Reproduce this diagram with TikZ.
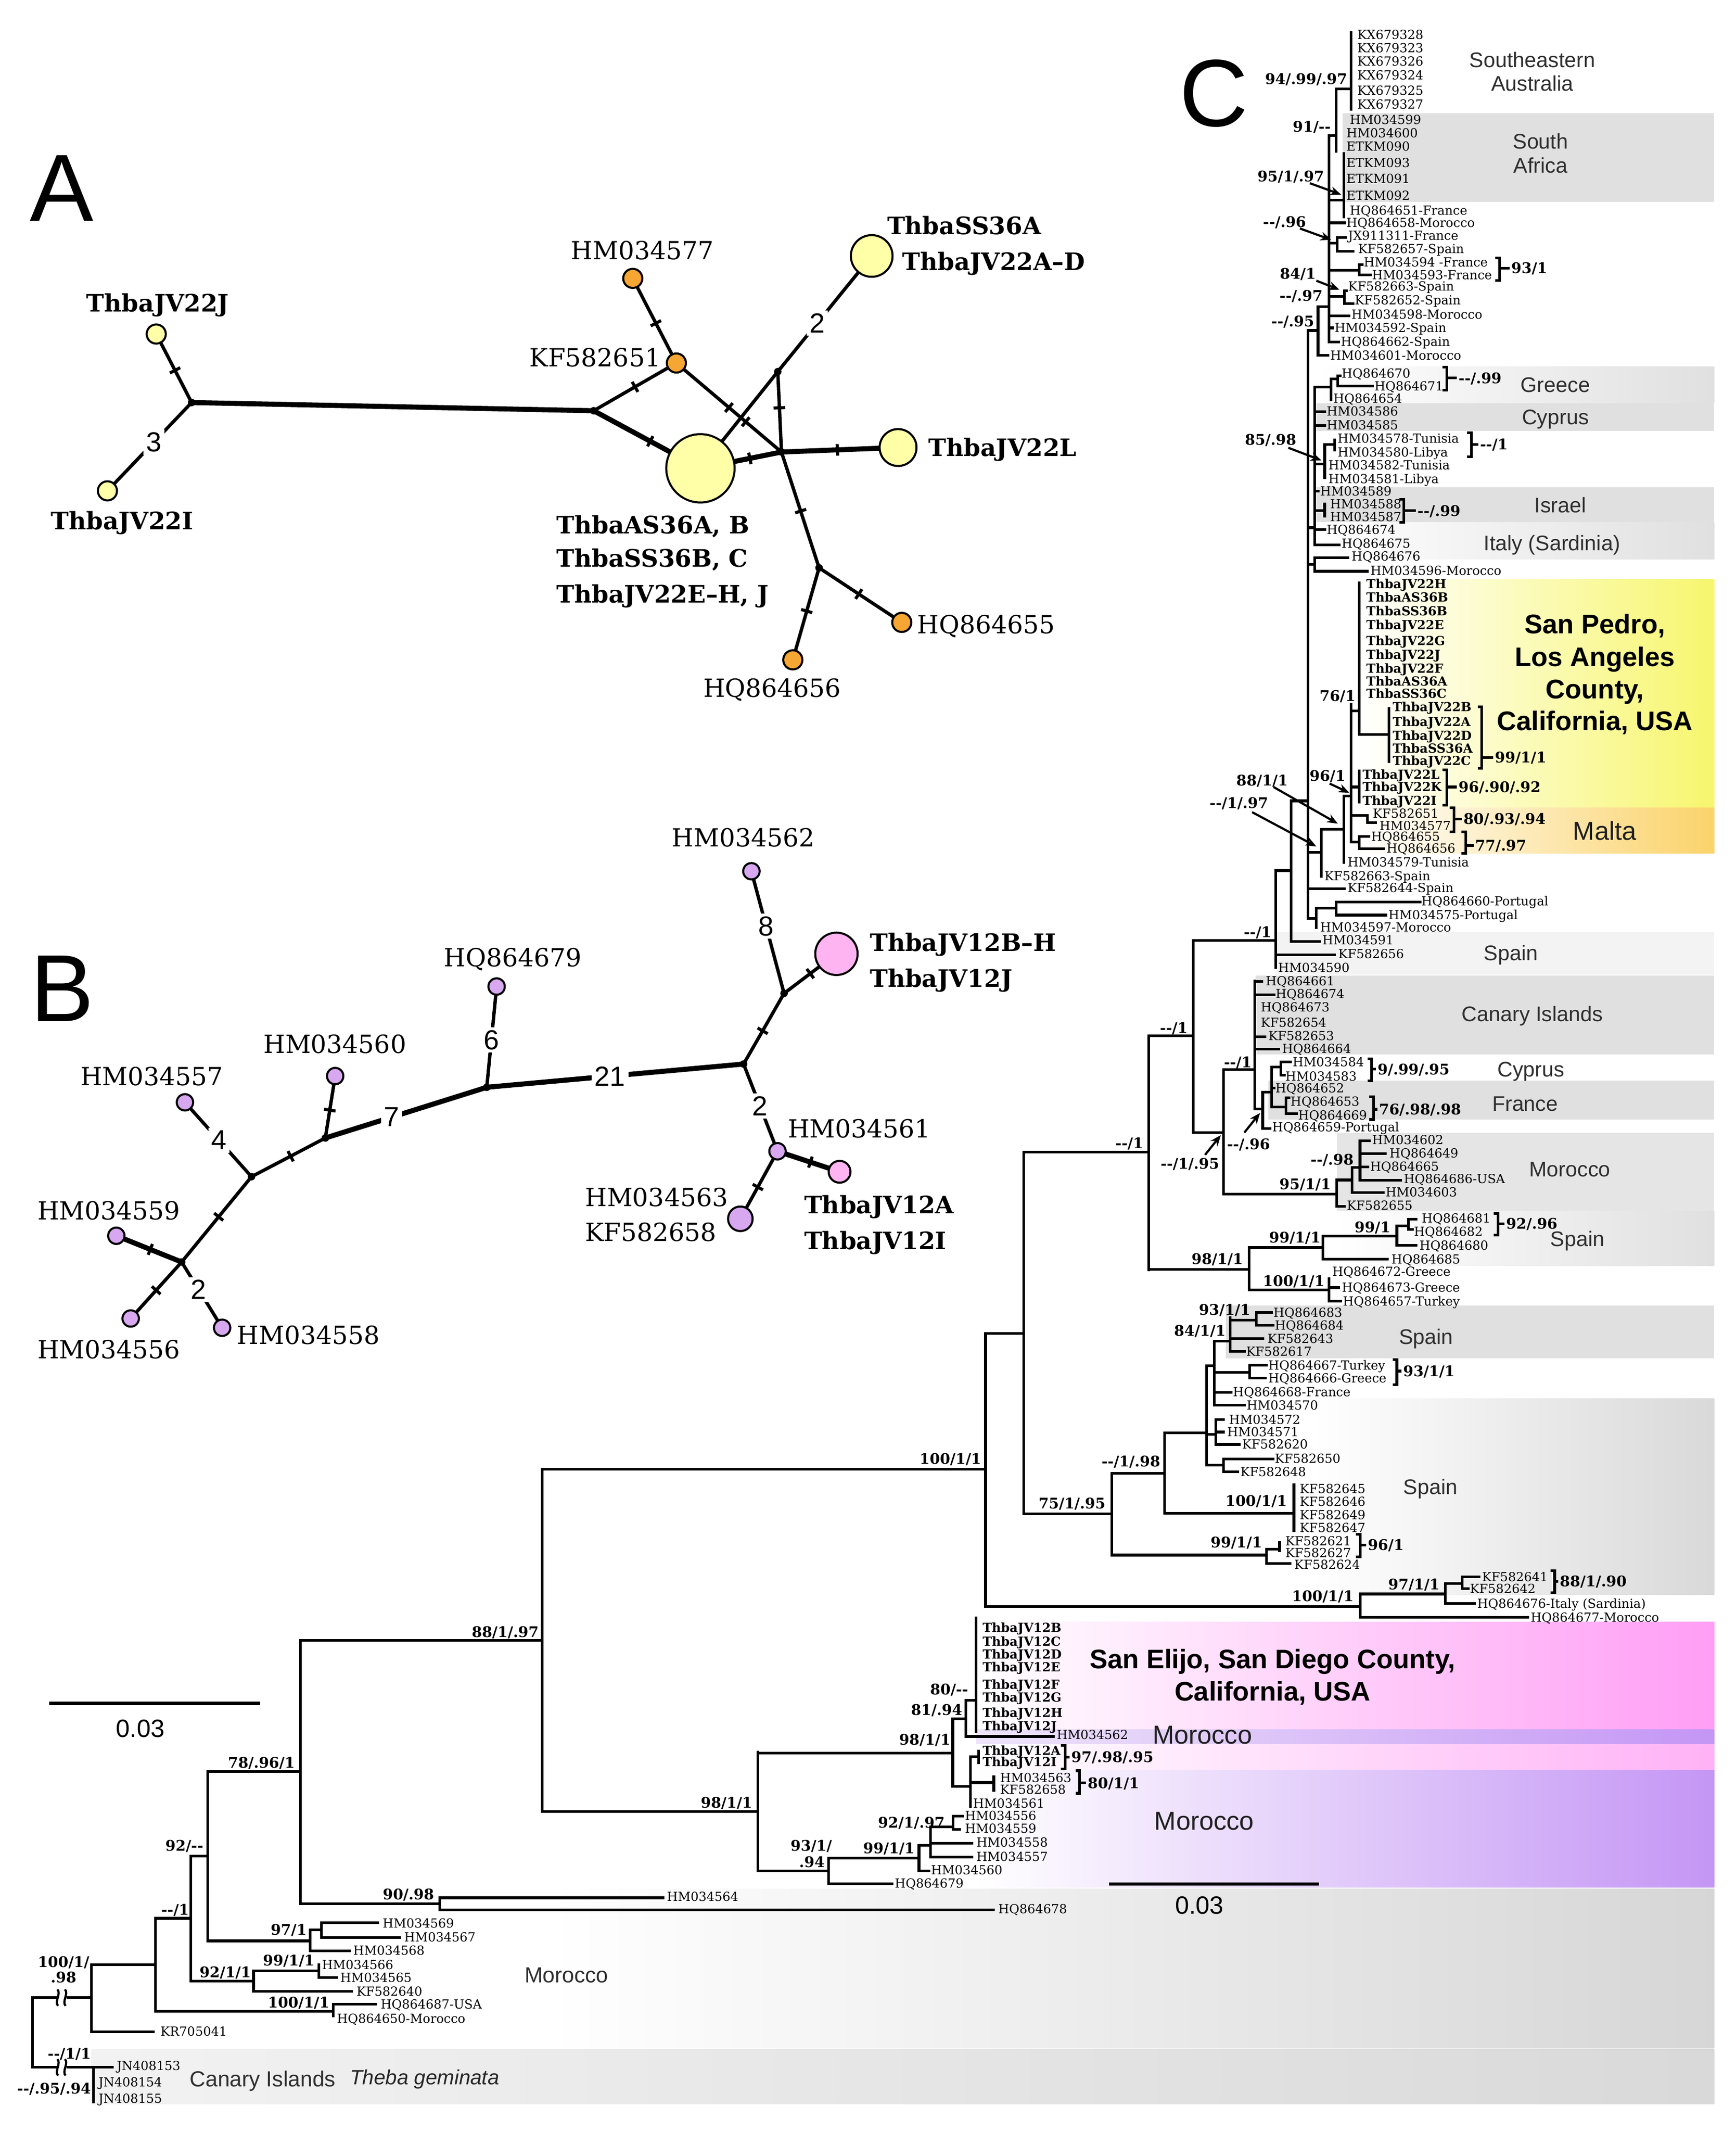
\documentclass[tikz,border=0pt]{standalone}
\usepackage{fontspec}
\setmainfont{DejaVu Serif}
\newfontfamily\serf{DejaVu Serif}
\newfontfamily\sansf{Liberation Sans}
\usetikzlibrary{arrows.meta}
\newcounter{nn}
\newcommand\dd{-{}-}
\definecolor{boxgray}{RGB}{224,224,224}
\definecolor{boxlite}{RGB}{243,243,243}
\definecolor{yelR}{RGB}{247,246,110}
\definecolor{malR}{RGB}{251,211,107}
\definecolor{pinkR}{RGB}{255,158,245}
\definecolor{pinkS}{RGB}{255,178,246}
\definecolor{lavR}{RGB}{196,150,245}
\definecolor{lavL}{RGB}{238,228,250}
\definecolor{nY}{RGB}{255,255,168}
\definecolor{nO}{RGB}{246,166,50}
\definecolor{nP}{RGB}{255,180,242}
\definecolor{nL}{RGB}{215,168,240}
\tikzset{
 tr/.style={line width=1.1pt, line cap=rect},
 tipf/.style={anchor=base west, inner sep=0pt, font=\serf\fontsize{5.2}{6}\selectfont},
 tipb/.style={anchor=base west, inner sep=0pt, font=\serf\bfseries\fontsize{5.2}{6}\selectfont},
 bsf/.style={anchor=base east, inner sep=0pt, font=\serf\bfseries\fontsize{6.1}{7}\selectfont},
 bsl/.style={anchor=base west, inner sep=0pt, font=\serf\bfseries\fontsize{6.1}{7}\selectfont},
 bsc/.style={anchor=base, inner sep=0pt, font=\serf\bfseries\fontsize{6.1}{7}\selectfont},
 brkst/.style={line width=1.1pt},
 arrst/.style={line width=0.9pt, -{Stealth[length=4.5pt,width=3.6pt]}},
 reg/.style={anchor=base, inner sep=0pt, text=black!82, font=\sansf\fontsize{8.8}{10}\selectfont},
 regm/.style={anchor=base, inner sep=0pt, text=black!88, font=\sansf\fontsize{10.8}{12}\selectfont},
 regs/.style={anchor=base, inner sep=0pt, text=black!82, font=\sansf\fontsize{9.1}{10}\selectfont},
 regb/.style={anchor=base, inner sep=0pt, font=\sansf\bfseries\fontsize{11.2}{13}\selectfont},
 panel/.style={inner sep=0pt, font=\sansf\fontsize{39.7}{40}\selectfont},
 sc/.style={anchor=base, inner sep=0pt, font=\sansf\fontsize{10.4}{11}\selectfont},
 nl/.style={inner sep=0pt, font=\serf\fontsize{10.4}{12}\selectfont},
 nlb/.style={inner sep=0pt, font=\serf\bfseries\fontsize{10}{12}\selectfont},
 ne/.style={line width=1.4pt},
 net/.style={line width=2.1pt},
 tick/.style={sloped, rectangle, fill=black, inner sep=0pt, minimum width=0.045cm, minimum height=0.17cm},
 num/.style={fill=white, inner sep=1.2pt, font=\sansf\fontsize{11.5}{12}\selectfont},
 jn/.style={circle, fill=black, inner sep=0pt, minimum size=0.11cm},
 hap/.style={circle, draw=black, line width=0.85pt, inner sep=0pt},
}
\newcommand\Hl[3]{\draw[tr] (#1,#3) -- (#2,#3);}
\newcommand\Vl[3]{\draw[tr] (#1,#2) -- (#1,#3);}
\newcommand\tp[3]{\stepcounter{nn}\node[tipf] (n\arabic{nn}) at (#1,#2+3.3) {#3};}
\newcommand\tb[3]{\stepcounter{nn}\node[tipb] (n\arabic{nn}) at (#1,#2+3.3) {#3};}
\newcommand\bs[3]{\stepcounter{nn}\node[bsf] (n\arabic{nn}) at (#1,#2+3.9) {#3};}
\newcommand\bc[3]{\stepcounter{nn}\node[bsc] (n\arabic{nn}) at (#1,#2+3.9) {#3};}
\newcommand\arr[4]{\draw[arrst] (#1,#2) -- (#3,#4);}
\newcommand\brk[6]{\draw[brkst] (#1-3,#2) -- (#1,#2) -- (#1,#3) -- (#1-3,#3);
 \draw[brkst] (#1,#5) -- (#4-0.8,#5);
 \stepcounter{nn}\node[bsl] (n\arabic{nn}) at (#4,#5+3.9) {#6};}
\newcommand\rl[4][reg]{\stepcounter{nn}\node[#1] (n\arabic{nn}) at (#2,#3+5.6) {#4};}

\begin{document}
\begin{tikzpicture}[x=0.02cm,y=-0.02cm]
\fill[white] (0,0) rectangle (1270,1559.3);
\useasboundingbox (0,0) rectangle (1270,1559.3);

% ---------------- background boxes ----------------
\fill[boxgray] (982.3,82.9) rectangle (1254,147.6);
\shade[left color=white, right color=boxgray] (963,268.2) rectangle (1254,294.9);
\fill[boxgray] (963,294.9) rectangle (1254,315);
\fill[boxgray] (963,356.3) rectangle (1254,381.9);
\shade[left color=white, right color=boxgray] (963,381.9) rectangle (1254,409.1);
\shade[left color=white, right color=yelR] (994,423.7) rectangle (1254,590.7);
\shade[left color=white, right color=malR] (994,590.7) rectangle (1254,624.1);
\fill[boxlite] (933,681.8) rectangle (1254,712.8);
\fill[boxgray] (918.4,713.6) rectangle (1254,771.3);
\fill[boxgray] (928,790.4) rectangle (1254,818.8);
\fill[black!10] (977.9,828.5) rectangle (1254,885.7);
\shade[left color=white, right color=boxgray] (977.9,885.7) rectangle (1254,925.8);
\fill[boxgray] (896.9,955) rectangle (1254,993.6);
\shade[left color=white, right color=black!15] (960,1022.8) rectangle (1254,1166.5);
\shade[left color=white, right color=pinkR] (714,1186.1) rectangle (1254,1265);
\shade[left color=lavL, right color=lavR] (714,1265) rectangle (1254,1275.7);
\shade[left color=white, right color=pinkS] (714,1275.7) rectangle (1254,1294.4);
\shade[left color=white, right color=lavR] (714,1294.4) rectangle (1254,1380.4);
\shade[left color=white, right color=black!16] (400,1381.3) rectangle (1254,1497.9);
\shade[left color=black!5, right color=black!15] (66.9,1498.6) rectangle (1254,1538.8);

% ---------------- panel letters ----------------
\node[panel] (pA) at (45.3,137.7) {A};
\node[panel] (pB) at (45.4,723) {B};
\node[panel] (pC) at (888,68.5) {C};

% ---------------- panel A network ----------------
\coordinate (J1) at (140.2,294.4);
\coordinate (J2) at (434.3,300.4);
\coordinate (J4) at (571.7,330.6);
\coordinate (J5) at (569,271.8);
\coordinate (J6) at (599.2,415.3);
\coordinate (cJ) at (114.3,244.3);
\coordinate (cI) at (78.6,359);
\coordinate (c577) at (462.9,203.6);
\coordinate (c651) at (494.8,265.5);
\coordinate (cBig) at (512.4,342.5);
\coordinate (cSS) at (637.7,187.2);
\coordinate (cL) at (657,327.3);
\coordinate (c655) at (659.7,455.2);
\coordinate (c656) at (580,482.6);
\draw[ne] (J1) -- (cJ) node[tick,pos=.47](tk1){};
\draw[ne] (J1) -- (cI) node[num,pos=.45](nm1){3};
\draw[net] (J1) -- (J2);
\draw[ne] (J2) -- (c651) node[tick,pos=.5](tk2){};
\draw[net] (J2) -- (cBig) node[tick,pos=.53](tk3){};
\draw[ne] (c577) -- (c651) node[tick,pos=.53](tk4){};
\draw[ne] (c651) -- (J4) node[tick,pos=.5](tk5){} node[tick,pos=.66](tk6){};
\draw[ne] (cBig) -- (J5);
\draw[ne] (J5) -- (cSS) node[num,pos=.42](nm2){2};
\draw[ne] (J5) -- (J4) node[tick,pos=.45](tk7){};
\draw[net] (cBig) -- (J4) node[tick,pos=.61](tk8){};
\draw[net] (J4) -- (cL) node[tick,pos=.48](tk9){};
\draw[ne] (J4) -- (J6) node[tick,pos=.51](tk10){};
\draw[ne] (J6) -- (c655) node[tick,pos=.48](tk11){};
\draw[ne] (J6) -- (c656) node[tick,pos=.47](tk12){};
\node[hap, fill=nY, minimum size=0.28cm] (hJ) at (cJ) {};
\node[hap, fill=nY, minimum size=0.28cm] (hI) at (cI) {};
\node[hap, fill=nO, minimum size=0.28cm] (h577) at (c577) {};
\node[hap, fill=nO, minimum size=0.28cm] (h651) at (c651) {};
\node[hap, fill=nY, minimum size=1.0cm] (hBig) at (cBig) {};
\node[hap, fill=nY, minimum size=0.61cm] (hSS) at (cSS) {};
\node[hap, fill=nY, minimum size=0.54cm] (hL) at (cL) {};
\node[hap, fill=nO, minimum size=0.28cm] (h655) at (c655) {};
\node[hap, fill=nO, minimum size=0.28cm] (h656) at (c656) {};
\node[jn] (dJ1) at (J1) {};
\node[jn] (dJ2) at (J2) {};
\node[jn] (dJ4) at (J4) {};
\node[jn] (dJ5) at (J5) {};
\node[jn] (dJ6) at (J6) {};
\node[nlb, anchor=base] (lJ) at (115.4,221.5+6.4) {ThbaJV22J};
\node[nlb, anchor=base] (lI) at (89.4,381+6.4) {ThbaJV22I};
\node[nl, anchor=base] (l577) at (470,183+6.7) {HM034577};
\node[nl, anchor=base east] (l651) at (483.8,261.4+6.7) {KF582651};
\node[nlb, anchor=base west] (lSS1) at (648.7,165.2+6.4) {ThbaSS36A};
\node[nlb, anchor=base west] (lSS2) at (659.7,191.3+6.4) {ThbaJV22A–D};
\node[nlb, anchor=base west] (lL) at (679,327.4+6.4) {ThbaJV22L};
\node[nlb, anchor=base west] (lB1) at (406.8,383.7+6.4) {ThbaAS36A, B};
\node[nlb, anchor=base west] (lB2) at (406.8,408.4+6.4) {ThbaSS36B, C};
\node[nlb, anchor=base west] (lB3) at (406.8,434.5+6.4) {ThbaJV22E–H, J};
\node[nl, anchor=base west] (l655) at (670.7,456.5+6.7) {HQ864655};
\node[nl, anchor=base] (l656) at (564.9,503.3+6.7) {HQ864656};

% ---------------- panel B network ----------------
\coordinate (b1) at (573.6,726.5);
\coordinate (b2) at (544,778.2);
\coordinate (b3) at (356.1,795.2);
\coordinate (b4) at (238,832.3);
\coordinate (b5) at (184,860.6);
\coordinate (b6) at (132.9,923);
\coordinate (c561) at (568.8,842);
\coordinate (c562) at (549.7,637.2);
\coordinate (cPk) at (611.9,697.6);
\coordinate (c679) at (363.3,721.5);
\coordinate (c560) at (245.2,787);
\coordinate (c557) at (135.3,806.2);
\coordinate (c559) at (85.1,903.8);
\coordinate (c556) at (95.6,964.3);
\coordinate (c558) at (162.5,971.1);
\coordinate (cPs) at (614.2,857);
\coordinate (c563) at (541.6,891.4);
\draw[ne] (c562) -- (b1) node[num,pos=.45](nm3){8};
\draw[ne] (b1) -- (cPk) node[tick,pos=.5](tk13){};
\draw[ne] (b1) -- (b2) node[tick,pos=.53](tk14){};
\draw[net] (b2) -- (b3) node[num,pos=.52](nm4){21};
\draw[ne] (b3) -- (c679) node[num,pos=.47](nm5){6};
\draw[net] (b3) -- (b4) node[num,pos=.59](nm6){7};
\draw[ne] (b4) -- (c560) node[tick,pos=.45](tk15){};
\draw[ne] (b4) -- (b5) node[tick,pos=.47](tk16){};
\draw[ne] (b5) -- (c557) node[num,pos=.49](nm7){4};
\draw[ne] (b5) -- (b6) node[tick,pos=.47](tk17){};
\draw[net] (b6) -- (c559) node[tick,pos=.48](tk18){};
\draw[ne] (b6) -- (c556) node[tick,pos=.5](tk19){};
\draw[ne] (b6) -- (c558) node[num,pos=.42](nm8){2};
\draw[ne] (b2) -- (c561) node[num,pos=.48](nm9){2};
\draw[net] (c561) -- (cPs) node[tick,pos=.53](tk20){};
\draw[ne] (c561) -- (c563) node[tick,pos=.53](tk21){};
\node[hap, fill=nL, minimum size=0.24cm] (h562) at (c562) {};
\node[hap, fill=nP, minimum size=0.62cm] (hPk) at (cPk) {};
\node[hap, fill=nL, minimum size=0.24cm] (h679) at (c679) {};
\node[hap, fill=nL, minimum size=0.24cm] (h560) at (c560) {};
\node[hap, fill=nL, minimum size=0.24cm] (h557) at (c557) {};
\node[hap, fill=nL, minimum size=0.24cm] (h559) at (c559) {};
\node[hap, fill=nL, minimum size=0.24cm] (h556) at (c556) {};
\node[hap, fill=nL, minimum size=0.24cm] (h558) at (c558) {};
\node[hap, fill=nL, minimum size=0.24cm] (h561) at (c561) {};
\node[hap, fill=nP, minimum size=0.32cm] (hPs) at (cPs) {};
\node[hap, fill=nL, minimum size=0.36cm] (h563) at (c563) {};
\node[jn] (db1) at (b1) {};
\node[jn] (db2) at (b2) {};
\node[jn] (db3) at (b3) {};
\node[jn] (db4) at (b4) {};
\node[jn] (db5) at (b5) {};
\node[jn] (db6) at (b6) {};
\node[nl, anchor=base] (l562) at (543.7,612.4+6.7) {HM034562};
\node[nlb, anchor=base west] (lPk1) at (636,689.4+6.4) {ThbaJV12B–H};
\node[nlb, anchor=base west] (lPk2) at (636,715.5+6.4) {ThbaJV12J};
\node[nl, anchor=base] (l679) at (375.2,700.4+6.7) {HQ864679};
\node[nl, anchor=base] (l560) at (245,763.6+6.7) {HM034560};
\node[nl, anchor=base] (l557) at (111.2,787+6.7) {HM034557};
\node[nl, anchor=base] (l559) at (79.6,885.4+6.7) {HM034559};
\node[nl, anchor=base] (l556) at (79.6,987+6.7) {HM034556};
\node[nl, anchor=base west] (l558) at (173,976.6+6.7) {HM034558};
\node[nl, anchor=base west] (l561) at (576,825.4+6.7) {HM034561};
\node[nlb, anchor=base west] (lPs1) at (588,881+6.4) {ThbaJV12A};
\node[nlb, anchor=base west] (lPs2) at (588,907.4+6.4) {ThbaJV12I};
\node[nl, anchor=base west] (l563) at (427.8,875.5+6.7) {HM034563};
\node[nl, anchor=base west] (l658) at (427.8,901+6.7) {KF582658};

% ---------------- tree C : lines ----------------
\Vl{988.4}{23.7}{80.1}
\Hl{977.5}{988.4}{65.1}
\Vl{977.5}{65.1}{110.7}
\Hl{972.2}{977.5}{99.1}
\Vl{983.1}{112.4}{158.8}
\Hl{972.2}{983.1}{146.4}
\Vl{972.2}{99.1}{250}
\Hl{972.2}{984}{163}
\Hl{972.2}{978.2}{177.9}
\Vl{978.2}{173.8}{183.7}
\Hl{978.2}{984.7}{173.8}
\Hl{978.2}{990}{183.7}
\Hl{972.2}{994.4}{197.8}
\Vl{994.4}{193.7}{201.1}
\Hl{994.4}{996.5}{193.7}
\Hl{994.4}{1002.5}{201.1}
\Hl{972.2}{983.5}{216.9}
\Vl{983.5}{212.7}{221.9}
\Hl{983.5}{985}{212.7}
\Hl{983.5}{990}{221.9}
\Hl{972.2}{987}{231}
\Hl{972.2}{975}{239.8}
\Hl{972.2}{979.5}{250}
\Hl{964.2}{972.2}{224.3}
\Vl{964.2}{224.3}{260}
\Hl{964.2}{971.5}{260}
\Hl{957}{964.2}{241.7}
\Vl{957}{241.7}{671.8}
\Vl{978.7}{274.8}{282.4}
\Hl{978.7}{980.5}{274.8}
\Hl{978.7}{1004}{282.4}
\Hl{973.9}{978.7}{277}
\Vl{973.9}{277}{292.4}
\Hl{961.8}{973.9}{283.2}
\Vl{961.8}{283.2}{398.6}
\Hl{961.8}{969.1}{301.1}
\Hl{961.8}{969.1}{311.1}
\Hl{969.1}{976.3}{325}
\Vl{976.3}{321.7}{329.2}
\Vl{969.1}{325}{349.3}
\Hl{961.8}{969.1}{339.2}
\Hl{961.8}{964.5}{359.3}
\Hl{961.8}{969.1}{373.5}
\Vl{969.1}{368.5}{377.7}
\Hl{961.8}{969.1}{387.4}
\Hl{961.8}{979.9}{398.6}
\Hl{957}{961.8}{386}
\Vl{961.8}{407.8}{417.8}
\Hl{961.8}{986}{407.8}
\Hl{961.8}{1000.4}{417.8}
\Hl{957}{961.8}{412.8}
\Vl{994.4}{426.2}{537.2}
\Vl{1016.1}{518}{557}
\Hl{994.4}{1016.1}{537.2}
\Hl{988.4}{994.4}{520}
\Vl{988.4}{515}{615.8}
\Vl{994.4}{564}{586.5}
\Hl{988.4}{994.4}{575.6}
\Hl{988.4}{1000.4}{596.5}
\Vl{1000.4}{596.5}{601.5}
\Hl{1000.4}{1006.4}{601.5}
\Vl{994.4}{611.6}{620.8}
\Hl{994.4}{1001.6}{611.6}
\Hl{994.4}{1012.5}{620.8}
\Hl{988.4}{994.4}{615.8}
\Hl{983.1}{988.4}{582.3}
\Vl{983.1}{582.3}{630.8}
\Hl{966.7}{983.1}{606.6}
\Vl{966.7}{606.6}{640.9}
\Hl{957}{966.7}{623.3}
\Hl{957}{983.5}{650}
\Hl{977.5}{1038.8}{659.6}
\Vl{977.5}{659.6}{669.3}
\Hl{977.5}{1013.7}{669.3}
\Hl{963}{977.5}{664.3}
\Vl{963}{664.3}{678.5}
\Hl{957}{963}{671.8}
\Hl{944.5}{957}{585.7}
\Vl{944.5}{585.7}{688.5}
\Hl{944.5}{965.5}{688.5}
\Hl{933.4}{944.5}{636.7}
\Vl{933.4}{636.7}{707.7}
\Hl{933.4}{976.3}{698.2}
\Hl{873}{933.4}{687.8}
\Vl{918}{717.4}{811.1}
\Hl{918}{923}{717.9}
\Hl{918}{932}{727.6}
\Hl{918}{925.5}{758.4}
\Hl{918}{935.5}{767.2}
\Hl{895}{918}{782.4}
\Hl{918}{923.7}{811.1}
\Vl{923.7}{798.7}{825.4}
\Hl{923.7}{929}{825.4}
\Hl{923.7}{930.4}{798.7}
\Vl{930.4}{780.5}{809.6}
\Hl{930.4}{937.1}{780.5}
\Vl{937.1}{776.7}{786.5}
\Hl{937.1}{944}{776.7}
\Hl{937.1}{939.5}{786.5}
\Hl{930.4}{932}{795.8}
\Hl{930.4}{940.9}{809.6}
\Vl{940.9}{802.9}{814.6}
\Hl{940.9}{943}{802.9}
\Hl{940.9}{948.5}{814.6}
\Hl{873}{895}{828.3}
\Vl{895}{782.4}{873.2}
\Vl{873}{687.8}{828.3}
\Hl{840.5}{873}{757.6}
\Vl{840.5}{757.6}{928.7}
\Hl{748.8}{840.5}{842.6}
\Hl{895}{977.9}{873.2}
\Vl{977.9}{863}{882.4}
\Hl{977.9}{983.5}{882.4}
\Hl{977.9}{989.2}{863}
\Vl{989.2}{853.9}{872.3}
\Hl{989.2}{1011.9}{872.3}
\Hl{989.2}{994.9}{853.9}
\Vl{994.9}{834.2}{863.1}
\Hl{994.9}{1002}{834.2}
\Hl{994.9}{1013.4}{843.6}
\Hl{994.9}{1000.6}{853.6}
\Hl{994.9}{1024.7}{863.1}
\Hl{840.5}{913.9}{928.4}
\Vl{913.9}{912.5}{943.4}
\Hl{913.9}{967.9}{912.5}
\Vl{967.9}{904.1}{920.8}
\Hl{967.9}{1014.8}{920.8}
\Hl{967.9}{1021.9}{904.1}
\Vl{1021.9}{896.6}{910.8}
\Hl{1021.9}{1036.1}{910.8}
\Hl{1021.9}{1030.4}{896.6}
\Vl{1030.4}{891.6}{899.1}
\Hl{1030.4}{1036.1}{891.6}
\Hl{1030.4}{1033.3}{899.1}
\Hl{913.9}{972.2}{943.4}
\Vl{972.2}{935}{951.8}
\Hl{972.2}{979.3}{941.7}
\Hl{972.2}{980.7}{951.8}
\Vl{882.6}{999}{1071.7}
\Hl{882.6}{888.3}{999}
\Vl{888.3}{980.9}{1027.7}
\Hl{888.3}{899.8}{980.9}
\Vl{899.8}{963.7}{988.5}
\Hl{899.8}{918.9}{965.6}
\Vl{918.9}{959.8}{969.4}
\Hl{918.9}{930.4}{959.8}
\Hl{918.9}{931.3}{969.4}
\Hl{899.8}{923.7}{979}
\Hl{899.8}{910.3}{988.5}
\Hl{888.3}{914.1}{1003.6}
\Vl{914.1}{998.5}{1008}
\Hl{914.1}{926.6}{998.5}
\Hl{914.1}{925.6}{1008}
\Hl{888.3}{900.8}{1018.2}
\Hl{888.3}{910.3}{1027.7}
\Hl{882.6}{889.3}{1049}
\Vl{889.3}{1038.2}{1056.4}
\Hl{889.3}{895}{1038.2}
\Hl{889.3}{895}{1047.4}
\Hl{889.3}{906.5}{1056.4}
\Hl{882.6}{895}{1071.7}
\Vl{895}{1067}{1076.5}
\Hl{895}{931.3}{1067}
\Hl{895}{905.5}{1076.5}
\Hl{852}{882.6}{1047.8}
\Vl{852}{1047.8}{1106.7}
\Hl{813.4}{852}{1077.4}
\Hl{852}{946.6}{1106.7}
\Vl{946.6}{1086}{1119.5}
\Vl{813.4}{1077.4}{1137.3}
\Hl{748.8}{813.4}{1107.1}
\Hl{813.4}{926.6}{1137.3}
\Vl{926.6}{1132.9}{1143.6}
\Hl{926.6}{936.1}{1132.9}
\Vl{936.1}{1128.3}{1134}
\Hl{926.6}{943.8}{1143.6}
\Vl{748.8}{842.6}{1107.1}
\Hl{721}{748.8}{975.1}
\Vl{721}{975.1}{1175}
\Hl{396.8}{721}{1074.6}
\Hl{721}{995}{1175}
\Vl{995}{1165.8}{1182.9}
\Hl{995}{1057.2}{1165.8}
\Vl{1057.2}{1158}{1172.8}
\Hl{1057.2}{1069.6}{1158}
\Vl{1069.6}{1153.4}{1162}
\Hl{1069.6}{1082}{1153.4}
\Hl{1069.6}{1074}{1162}
\Hl{1057.2}{1078.6}{1172.8}
\Hl{995}{1117.7}{1182.9}
% pink clade
\Vl{714.2}{1183.3}{1266.4}
\Hl{706.5}{714.2}{1243.5}
\Vl{706.5}{1243.5}{1270}
\Hl{706.5}{770.6}{1270}
\Hl{697}{706.5}{1257.1}
\Vl{697}{1257.1}{1306.6}
\Hl{554.5}{697}{1282.2}
\Hl{697}{709.9}{1306.6}
\Vl{709.9}{1284.7}{1321.6}
\Hl{709.9}{715.9}{1284.7}
\Vl{715.9}{1280.8}{1289.4}
\Hl{709.9}{727}{1303.7}
\Vl{727}{1299.4}{1309.4}
% lower Morocco clade
\Vl{554.5}{1281.4}{1368.4}
\Hl{396.8}{554.5}{1325}
\Hl{554.5}{606.1}{1368.4}
\Vl{606.1}{1358.9}{1377.6}
\Hl{606.1}{672.3}{1358.9}
\Hl{606.1}{652.5}{1377.6}
\Vl{672.3}{1349.6}{1368.2}
\Hl{672.3}{679.5}{1368.2}
\Hl{672.3}{680.8}{1349.6}
\Vl{680.8}{1336}{1358.2}
\Hl{680.8}{711}{1348.1}
\Hl{680.8}{711}{1358.2}
\Hl{680.8}{697.1}{1336}
\Vl{697.1}{1328.1}{1338}
\Hl{697.1}{704.3}{1328.1}
\Hl{697.1}{702.2}{1338}
% lower-left tree
\Vl{396.8}{1074.6}{1325}
\Hl{219.9}{396.8}{1199.8}
\Vl{219.9}{1199.8}{1392.3}
\Hl{152}{219.9}{1295.7}
\Vl{152}{1295.7}{1419.5}
\Hl{152}{227}{1419.5}
\Vl{227}{1411.4}{1426.9}
\Hl{227}{235.2}{1411.4}
\Vl{235.2}{1406.3}{1417}
\Hl{235.2}{276.3}{1406.3}
\Hl{235.2}{292.5}{1417}
\Hl{227}{255.7}{1426.9}
\Hl{139.6}{152}{1357.6}
\Vl{139.6}{1357.6}{1449}
\Hl{139.6}{185.5}{1449}
\Vl{185.5}{1441.3}{1456.4}
\Hl{185.5}{233.3}{1441.3}
\Vl{233.3}{1436.9}{1446.3}
\Hl{233.3}{246.2}{1446.3}
\Hl{185.5}{257.2}{1456.4}
\Hl{113.8}{139.6}{1403}
\Vl{113.8}{1403}{1471.1}
\Hl{113.8}{243.8}{1471.1}
\Vl{243.8}{1465.7}{1474.5}
\Hl{243.8}{274.9}{1465.7}
\Hl{66.9}{113.8}{1436.9}
\Vl{66.9}{1436.9}{1485.9}
\Hl{66.9}{112.3}{1485.9}
\Hl{23.9}{41}{1461}
\Hl{49.5}{66.9}{1461}
\Vl{23.9}{1461}{1512}
\Hl{23.9}{41}{1512}
\Hl{49.5}{82.2}{1512}
\Vl{68.4}{1512}{1537.5}
\Hl{219.9}{321.7}{1392.3}
\Vl{321.7}{1388}{1396.7}
\Hl{321.7}{485.2}{1388}
\Hl{321.7}{726.6}{1396.7}
% break marks
\draw[line width=0.9pt] (42,1455) .. controls (45,1458) and (39.5,1464) .. (42.5,1467);
\draw[line width=0.9pt] (47.5,1455) .. controls (50.5,1458) and (45,1464) .. (48,1467);
\draw[line width=0.9pt] (42,1506) .. controls (45,1509) and (39.5,1515) .. (42.5,1518);
\draw[line width=0.9pt] (47.5,1506) .. controls (50.5,1509) and (45,1515) .. (48,1518);

% scale bars
\draw[line width=1.4pt] (35.9,1245.8) -- (190.2,1245.8);
\node[sc] (s1) at (102.8,1263.9+6.6) {0.03};
\draw[line width=1.4pt] (811.2,1377.9) -- (965.1,1377.9);
\node[sc] (s2) at (877.5,1393.3+6.6) {0.03};

% ---------------- tree C : tips ----------------
\tp{992.7}{25.3}{KX679328}
\tp{992.7}{35.1}{KX679323}
\tp{992.7}{44.9}{KX679326}
\tp{992.7}{54.9}{KX679324}
\tp{992.7}{66.2}{KX679325}
\tp{992.7}{76.2}{KX679327}
\tp{987.1}{87.5}{HM034599}
\tp{984.7}{97.5}{HM034600}
\tp{984.7}{107.1}{ETKM090}
\tp{984.7}{119}{ETKM093}
\tp{984.7}{130.6}{ETKM091}
\tp{984.7}{143.1}{ETKM092}
\tp{987.1}{153.9}{HQ864651-France}
\tp{984.7}{163}{HQ864658-Morocco}
\tp{985.9}{172.1}{JX911311-France}
\tp{993.2}{182.1}{KF582657-Spain}
\tp{997.3}{191.7}{HM034594 -France}
\tp{1003.3}{201.1}{HM034593-France}
\tp{985.9}{209.4}{KF582663-Spain}
\tp{990.8}{219.4}{KF582652-Spain}
\tp{988.3}{230.1}{HM034598-Morocco}
\tp{976.1}{239.8}{HM034592-Spain}
\tp{980.6}{250}{HQ864662-Spain}
\tp{972.9}{260}{HM034601-Morocco}
\tp{981.1}{273.2}{HQ864670}
\tp{1005.2}{282.4}{HQ864671}
\tp{975.1}{291.6}{HQ864654}
\tp{970.3}{300.8}{HM034586}
\tp{970.3}{310.8}{HM034585}
\tp{978.2}{320.8}{HM034578-Tunisia}
\tp{978.2}{330.9}{HM034580-Libya}
\tp{971.5}{340}{HM034582-Tunisia}
\tp{971.5}{350.1}{HM034581-Libya}
\tp{965.5}{359.3}{HM034589}
\tp{972.7}{368.5}{HM034588}
\tp{972.7}{378}{HM034587}
\tp{970.3}{387.4}{HQ864674}
\tp{981.1}{397.4}{HQ864675}
\tp{988.4}{407}{HQ864676}
\tp{1002.3}{417.5}{HM034596-Morocco}
\tb{999.2}{427}{ThbaJV22H}
\tb{999.2}{437}{ThbaAS36B}
\tb{999.2}{447}{ThbaSS36B}
\tb{999.2}{457}{ThbaJV22E}
\tb{999.2}{468.8}{ThbaJV22G}
\tb{999.2}{478.9}{ThbaJV22J}
\tb{999.2}{488.9}{ThbaJV22F}
\tb{999.2}{498.1}{ThbaAS36A}
\tb{999.2}{507.3}{ThbaSS36C}
\tb{1018.5}{517.2}{ThbaJV22B}
\tb{1018.5}{528}{ThbaJV22A}
\tb{1018.5}{538}{ThbaJV22D}
\tb{1018.5}{547.2}{ThbaSS36A}
\tb{1018.5}{556.4}{ThbaJV22C}
\tb{996.5}{566.4}{ThbaJV22L}
\tb{996.5}{575.6}{ThbaJV22K}
\tb{996.5}{585.7}{ThbaJV22I}
\tp{1004}{594.9}{KF582651}
\tp{1008.9}{604}{HM034577}
\tp{1002.8}{612}{HQ864655}
\tp{1014}{620.5}{HQ864656}
\tp{985.5}{630.5}{HM034579-Tunisia}
\tp{968.6}{640.5}{KF582663-Spain}
\tp{985.5}{649.2}{KF582644-Spain}
\tp{1039.5}{659}{HQ864660-Portugal}
\tp{1015.4}{669.3}{HM034575-Portugal}
\tp{965.5}{678}{HM034597-Morocco}
\tp{967.1}{687.7}{HM034591}
\tp{978.7}{697.7}{KF582656}
\tp{934.8}{707.7}{HM034590}
\tp{925.7}{717.4}{HQ864661}
\tp{932.9}{727}{HQ864674}
\tp{922}{736.5}{HQ864673}
\tp{922}{747.9}{KF582654}
\tp{927.6}{757.6}{KF582653}
\tp{937.7}{767.1}{HQ864664}
\tp{945.3}{776.7}{HM034584}
\tp{940}{787.2}{HM034583}
\tp{932.7}{795.8}{HQ864652}
\tp{943.8}{805.4}{HQ864653}
\tp{949.4}{815.8}{HQ864669}
\tp{930.4}{824.4}{HQ864659-Portugal}
\tp{1003.4}{833.5}{HM034602}
\tp{1016.2}{843.6}{HQ864649}
\tp{1002}{853.1}{HQ864665}
\tp{1026.7}{862.3}{HQ864686-USA}
\tp{1013.4}{872}{HM034603}
\tp{985}{881.5}{KF582655}
\tp{1039.8}{891}{HQ864681}
\tp{1034.1}{900.8}{HQ864682}
\tp{1038.1}{910.8}{HQ864680}
\tp{1017.6}{920.8}{HQ864685}
\tp{974.4}{930}{HQ864672-Greece}
\tp{981.3}{941.7}{HQ864673-Greece}
\tp{982.1}{951.8}{HQ864657-Turkey}
\tp{931.3}{959.8}{HQ864683}
\tp{932.3}{969.4}{HQ864684}
\tp{927}{979}{KF582643}
\tp{911.3}{988.5}{KF582617}
\tp{927.5}{998.5}{HQ864667-Turkey}
\tp{927.5}{1008}{HQ864666-Greece}
\tp{901.7}{1018.2}{HQ864668-France}
\tp{911.7}{1027.7}{HM034570}
\tp{898.8}{1038.2}{HM034572}
\tp{897.5}{1047.4}{HM034571}
\tp{908.4}{1056.4}{KF582620}
\tp{932.3}{1066.9}{KF582650}
\tp{907.1}{1076.5}{KF582648}
\tp{950.5}{1088.7}{KF582645}
\tp{950.5}{1098.2}{KF582646}
\tp{950.5}{1107.9}{KF582649}
\tp{950.5}{1117.5}{KF582647}
\tp{940}{1127.2}{KF582621}
\tp{940}{1135.8}{KF582627}
\tp{946.6}{1144.4}{KF582624}
\tp{1083.9}{1153.4}{KF582641}
\tp{1075}{1161.9}{KF582642}
\tp{1080.3}{1172.8}{HQ864676-Italy (Sardinia)}
\tp{1119.5}{1182.9}{HQ864677-Morocco}
\tb{718.5}{1190.4}{ThbaJV12B}
\tb{718.5}{1200.5}{ThbaJV12C}
\tb{718.5}{1209.8}{ThbaJV12D}
\tb{718.5}{1219.1}{ThbaJV12E}
\tb{718.5}{1232}{ThbaJV12F}
\tb{718.5}{1241.3}{ThbaJV12G}
\tb{718.5}{1252.8}{ThbaJV12H}
\tb{718.5}{1262.3}{ThbaJV12J}
\tp{772.8}{1268.6}{HM034562}
\tb{718.5}{1280.5}{ThbaJV12A}
\tb{718.5}{1288.6}{ThbaJV12I}
\tp{731.3}{1300.1}{HM034563}
\tp{731.3}{1308.7}{KF582658}
\tp{711.6}{1318.8}{HM034561}
\tp{705.6}{1328.1}{HM034556}
\tp{705.6}{1337.4}{HM034559}
\tp{714}{1347.4}{HM034558}
\tp{714}{1357.9}{HM034557}
\tp{680.8}{1367.5}{HM034560}
\tp{654.3}{1377.5}{HQ864679}
\tp{487.6}{1387.1}{HM034564}
\tp{730}{1396.2}{HQ864678}
\tp{279.6}{1406.5}{HM034569}
\tp{295.4}{1416.8}{HM034567}
\tp{258.1}{1426.6}{HM034568}
\tp{235.2}{1436.9}{HM034566}
\tp{248.6}{1446.3}{HM034565}
\tp{260.5}{1456.4}{KF582640}
\tp{278.2}{1465.7}{HQ864687-USA}
\tp{246.2}{1476.5}{HQ864650-Morocco}
\tp{117.1}{1485.9}{KR705041}
\tp{85.1}{1510.7}{JN408153}
\tp{71.7}{1522.7}{JN408154}
\tp{71.7}{1534.8}{JN408155}

% ---------------- support values ----------------
\bs{985.9}{57.7}{94/.99/.97}
\bs{973.9}{92.5}{91/\dd}
\bs{969.1}{129}{95/1/.97}
\arr{958.2}{134}{981.1}{142.3}
\bs{955.8}{162.2}{\dd/.96}
\arr{951}{167.1}{973.9}{175.4}
\bs{963}{200.3}{84/1}
\arr{963}{205.3}{979.9}{211.9}
\bs{967.9}{216.1}{\dd/.97}
\bs{961.8}{235.1}{\dd/.95}
\bs{948.6}{321.7}{85/.98}
\arr{942.5}{327.5}{966.7}{336.7}
\bs{992}{509}{76/1}
\bs{984.7}{567.3}{96/1}
\arr{972.7}{573.1}{987.1}{579.8}
\bs{942.5}{570.6}{88/1/1}
\arr{931.7}{575.6}{978.7}{602.4}
\bs{928.1}{587.3}{\dd/1/.97}
\arr{916}{594}{963}{619.1}
\bs{930.5}{681.8}{\dd/1}
\bs{916}{776.7}{\dd/1}
\bs{869.2}{751.8}{\dd/1}
\bs{836.7}{836}{\dd/1}
\bs{929.4}{836.7}{\dd/.96}
\arr{910.3}{828.3}{921.8}{814}
\bs{892.3}{851.2}{\dd/1/.95}
\arr{881.6}{844.6}{893.1}{830.2}
\bs{990.6}{848}{\dd/.98}
\bs{974}{866}{95/1/1}
\bs{909.7}{920.8}{98/1/1}
\bs{966.5}{905}{99/1/1}
\bs{1017.6}{897.4}{99/1}
\bs{969.3}{936.7}{100/1/1}
\bs{915.1}{958}{93/1/1}
\bs{897}{973.2}{84/1/1}
\bs{849.1}{1068.8}{\dd/1/.98}
\bs{941.9}{1097.5}{100/1/1}
\bs{809}{1099.4}{75/1/.95}
\bs{923.7}{1128.1}{99/1/1}
\bs{718.2}{1067}{100/1/1}
\bs{990.6}{1167.3}{100/1/1}
\bs{1053.6}{1158.8}{97/1/1}
\bs{708.6}{1235.6}{80/\dd}
\bs{704.3}{1250.7}{81/.94}
\bs{695.8}{1272.2}{98/1/1}
\bs{394.4}{1193.6}{88/1/.97}
\bs{216}{1289}{78/.96/1}
\bs{149.1}{1350}{92/\dd}
\bs{550.7}{1318.2}{98/1/1}
\bc{593.5}{1350}{93/1/}
\bc{594}{1361.7}{.94}
\bs{669.5}{1351.7}{99/1/1}
\bs{691.5}{1333.1}{92/1/.97}
\bs{317.9}{1385.3}{90/.98}
\bs{224.7}{1411.4}{97/1}
\bs{138.6}{1396.7}{\dd/1}
\bs{184}{1442.3}{92/1/1}
\bs{230.4}{1433.6}{99/1/1}
\bs{241.4}{1464.4}{100/1/1}
\bc{46.5}{1434.9}{100/1/}
\bc{46.5}{1446.3}{.98}
\bs{66.9}{1501.9}{\dd/1/1}
\bs{66.9}{1527.4}{\dd/.95/.94}

% brackets
\brk{1058.3}{268.5}{285.5}{1066.7}{276.5}{\dd/.99}
\brk{1096.9}{188.7}{205.3}{1105.3}{196.1}{93/1}
\brk{1076.4}{316.6}{334.2}{1082.4}{325}{\dd/1}
\brk{1026.9}{365.1}{381.9}{1036.6}{373.5}{\dd/.99}
\brk{1084}{517}{562}{1093.3}{553.9}{99/1/1}
\brk{1058.3}{563.1}{589}{1066.7}{575.6}{96/.90/.92}
\brk{1063.6}{590.7}{608.3}{1070.3}{599}{80/.93/.94}
\brk{1072.3}{608.3}{624.1}{1078.8}{618.3}{77/.97}
\brk{1003.4}{774.5}{790.4}{1007.5}{782}{9/.99/.95}
\brk{1004.8}{802.1}{818.8}{1008.5}{811.3}{76/.98/.98}
\brk{1095.8}{887.4}{903.3}{1101.5}{894.9}{92/.96}
\brk{1021.9}{994.4}{1012.8}{1026.2}{1002.8}{93/1/1}
\brk{995}{1122.3}{1138.6}{1000.3}{1130}{96/1}
\brk{1137.3}{1148.7}{1165}{1140.8}{1156.5}{88/1/.90}
\brk{779.2}{1276.5}{1293.7}{783.4}{1285.1}{97/.98/.95}
\brk{789.9}{1295.1}{1311.6}{795.4}{1304}{80/1/1}

% ---------------- region labels ----------------
\rl{1121}{43.6}{Southeastern}
\rl{1121}{61}{Australia}
\rl{1127}{103.3}{South}
\rl{1127}{120.7}{Africa}
\rl{1137.9}{281.4}{Greece}
\rl{1137.9}{304.8}{Cyprus}
\rl{1141.5}{369.3}{Israel}
\rl{1135.4}{396.9}{Italy (Sardinia)}
\stepcounter{nn}\node[regb] (n\arabic{nn}) at (1166.8,456.3+7) {San Pedro,};
\stepcounter{nn}\node[regb] (n\arabic{nn}) at (1166.8,480.5+7) {Los Angeles};
\stepcounter{nn}\node[regb] (n\arabic{nn}) at (1166.8,503.9+7) {County,};
\stepcounter{nn}\node[regb] (n\arabic{nn}) at (1166.8,527.1+7) {California, USA};
\stepcounter{nn}\node[regm] (n\arabic{nn}) at (1174,607.4+6.8) {Malta};
\rl{1105.3}{696.9}{Spain}
\rl{1121}{741.4}{Canary Islands}
\rl{1120}{782}{Cyprus}
\rl{1115.7}{807}{France}
\rl{1148.4}{854.8}{Morocco}
\rl{1154}{905.8}{Spain}
\rl{1043.2}{977.7}{Spain}
\rl{1046.5}{1087.4}{Spain}
\stepcounter{nn}\node[regb] (n\arabic{nn}) at (930.9,1213.4+7) {San Elijo, San Diego County,};
\stepcounter{nn}\node[regb] (n\arabic{nn}) at (930.9,1237+7) {California, USA};
\stepcounter{nn}\node[regm] (n\arabic{nn}) at (879.6,1268.6+6.8) {Morocco};
\stepcounter{nn}\node[regm] (n\arabic{nn}) at (881,1331.7+6.8) {Morocco};
\rl[regs]{414.4}{1444.3}{Morocco}
\rl[regs]{192.2}{1520.7}{Canary Islands}
\stepcounter{nn}\node[anchor=base west, inner sep=0pt, text=black!85, font=\sansf\itshape\fontsize{8.6}{10}\selectfont] (n\arabic{nn}) at (255.7,1519.4+5.4) {Theba geminata};
\end{tikzpicture}
\end{document}
